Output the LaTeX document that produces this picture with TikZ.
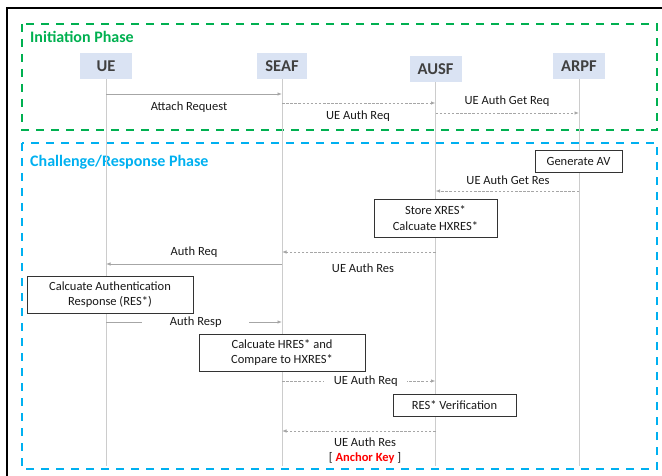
\documentclass[tikz,border=0pt]{standalone}
\usepackage{fontspec}
\setmainfont{Carlito}
\usepackage{xcolor}
\usepackage{tikz}
\usetikzlibrary{arrows.meta,positioning,calc}
\definecolor{phasegreen}{RGB}{0,176,80}
\definecolor{phaseblue}{RGB}{0,176,240}
\definecolor{actorfill}{RGB}{218,227,243}
\definecolor{actortext}{RGB}{64,64,64}
\definecolor{msggray}{RGB}{166,166,166}
\definecolor{lifegray}{RGB}{204,204,204}
\definecolor{keyred}{RGB}{255,0,0}
\newcommand{\msgfont}{\fontsize{12.5}{15.5}\selectfont}
\tikzset{
  actor/.style={
    fill=actorfill,text=actortext,font=\fontsize{16.5}{18}\selectfont\bfseries,
    minimum width=52pt,minimum height=26pt,inner sep=0pt
  },
  lifeline/.style={draw=lifegray,line width=0.8pt},
  actionbox/.style={
    draw=black!80,fill=white,line width=0.9pt,align=center,font=\msgfont,
    text=black!90,inner sep=0pt,minimum height=22pt
  },
  msgline/.style={draw=msggray,line width=0.8pt,-{Latex[length=4.5pt,width=3.5pt]}},
  msgdashed/.style={msgline,dash pattern=on 2.5pt off 1.6pt},
  msglabel/.style={font=\msgfont,text=black!90,inner sep=1pt},
  phasebox/.style={line width=2.5pt,dash pattern=on 8pt off 7pt},
  phasetitle/.style={font=\fontsize{16}{18}\selectfont\bfseries,anchor=west,inner sep=0pt}
}

\begin{document}
\begin{tikzpicture}[x=1pt,y=-1pt]
  \useasboundingbox (0,0) rectangle (662,476);
  % frame, cut by the page
  \draw[line width=1.5pt] (662,8) -- (7,8) -- (7,476);
  % phases
  \draw[phasebox,draw=phasegreen] (22,24) rectangle (657,130);
  \draw[phasebox,draw=phaseblue] (22,143) rectangle (657,469);
  \node[phasetitle,text=phasegreen] (initlbl) at (30,37) {Initiation Phase};
  \node[phasetitle,text=phaseblue] (challlbl) at (30,162) {Challenge/Response Phase};
  % actors and lifelines
  \node[actor] (ue) at (106,66) {UE};
  \node[actor,minimum width=50pt] (seaf) at (282,66) {SEAF};
  \node[actor] (ausf) at (435.5,69) {AUSF};
  \node[actor] (arpf) at (579,66) {ARPF};
  \foreach \a in {ue,seaf,ausf,arpf}
    \draw[lifeline] (\a.south) -- (\a |- 0,466);
  % initiation
  \draw[msgline] (ue |- 0,94) -- (seaf |- 0,94);
  \node[msglabel] (attach) at (189,107) {Attach Request};
  \draw[msgdashed] (seaf |- 0,103) -- (ausf |- 0,103);
  \node[msglabel] (authreq1) at (358,116) {UE Auth Req};
  \draw[msgdashed] (ausf |- 0,113) -- (arpf |- 0,113);
  \node[msglabel] (getreq) at (507,101) {UE Auth Get Req};
  % challenge / response
  \node[actionbox,minimum width=87pt] (genav) at (578.5,161) {Generate AV};
  \draw[msgdashed] (arpf |- 0,191) -- (ausf |- 0,191);
  \node[msglabel] (getres) at (508,180) {UE Auth Get Res};
  \node[actionbox,minimum width=123pt,minimum height=38pt] (store) at (435.5,218) {Store XRES*\\Calcuate HXRES*};
  \draw[msgdashed] (ausf |- 0,252) -- (seaf |- 0,252);
  \node[msglabel] (authres1) at (363,268) {UE Auth Res};
  \draw[msgline] (seaf |- 0,264) -- (ue |- 0,264);
  \node[msglabel] (authreq) at (194,252) {Auth Req};
  \node[actionbox,minimum width=166pt,minimum height=37pt] (calcres) at (110,294.5) {Calcuate Authentication\\Response (RES*)};
  \draw[msgline] (ue |- 0,322) -- (seaf |- 0,322)
    node[msglabel,fill=white,minimum width=107pt,pos=0.51] (authresp) {Auth Resp};
  \node[actionbox,minimum width=166pt,minimum height=37pt] (calchres) at (282,352.5) {Calcuate HRES* and\\Compare to HXRES*};
  \draw[msgdashed] (seaf |- 0,381) -- (ausf |- 0,381)
    node[msglabel,fill=white,minimum width=83pt,pos=0.546] (authreq2) {UE Auth Req};
  \node[actionbox,minimum width=123pt] (resver) at (454.5,405) {RES* Verification};
  \draw[msgdashed] (ausf |- 0,431) -- (seaf |- 0,431);
  \node[msglabel,align=center] (authres2) at (365,450.5) {UE Auth Res\\{[} \textcolor{keyred}{\textbf{Anchor Key}} {]}};
\end{tikzpicture}
\end{document}
